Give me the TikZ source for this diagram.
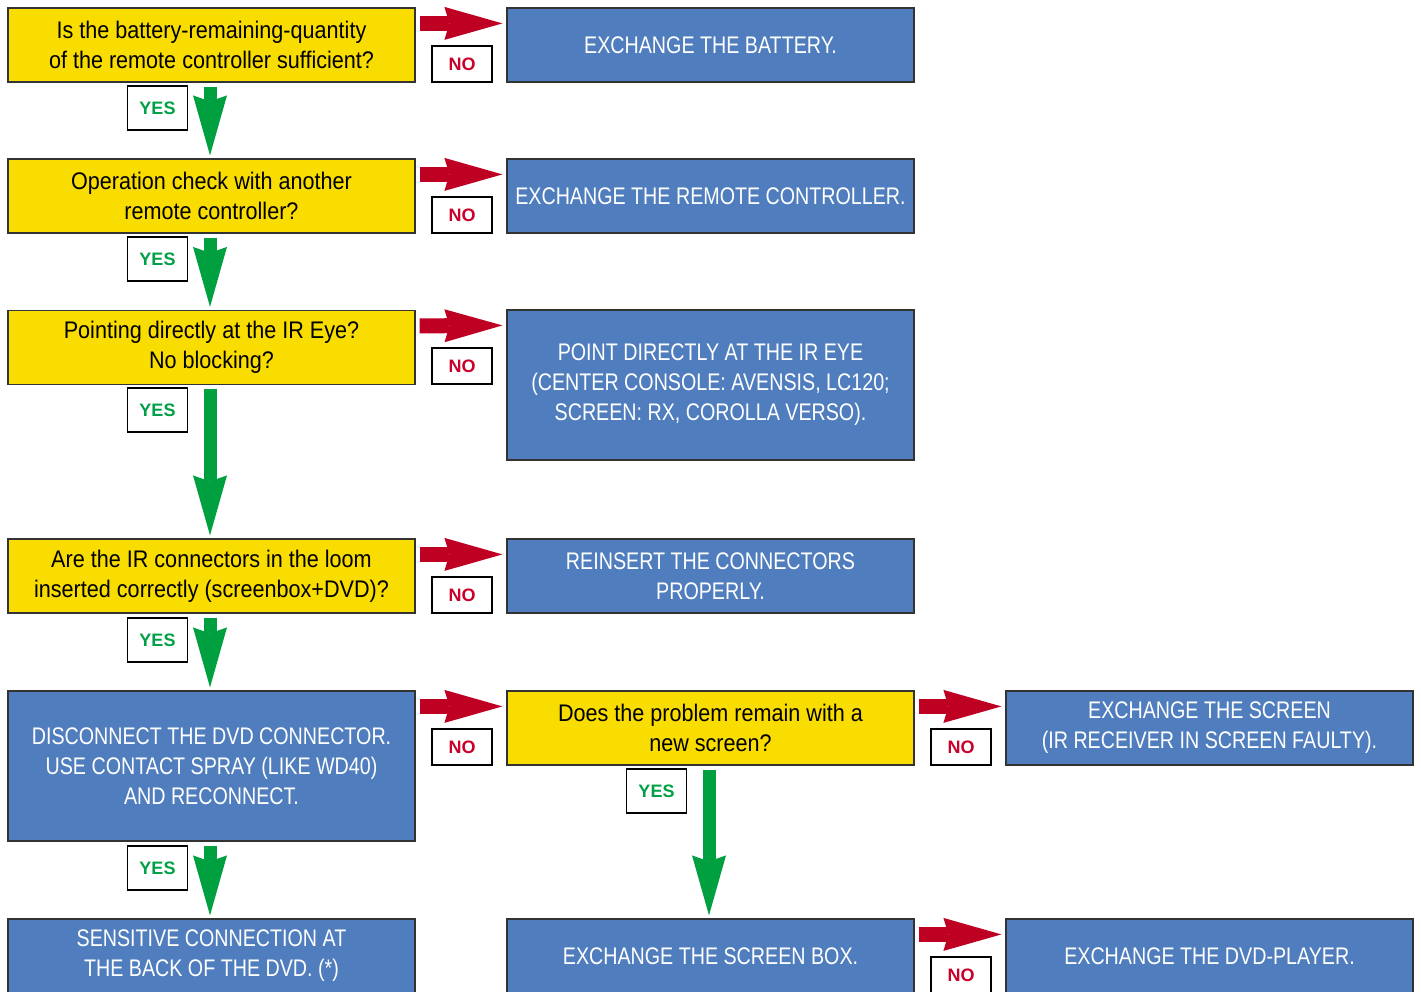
\documentclass[tikz,border=0pt]{standalone}
\usepackage{fontspec}
\setmainfont{Liberation Sans}[FakeStretch=0.82]
\newfontfamily\qfont{Liberation Sans}[FakeStretch=0.9]
\newfontfamily\labfont{Liberation Sans}
\usetikzlibrary{arrows.meta,calc}
\definecolor{qyellow}{HTML}{F9DD00}
\definecolor{ablue}{HTML}{4F7DBD}
\definecolor{boxline}{HTML}{333333}
\definecolor{yesgreen}{HTML}{00A046}
\definecolor{nored}{HTML}{C8002A}
\definecolor{arrred}{HTML}{BE0023}
\definecolor{arrgreen}{HTML}{00A040}
\begin{document}
\begin{tikzpicture}[x=1pt,y=-1pt,
  box/.style={draw=boxline, line width=1.2pt, minimum width=407pt, minimum height=74pt, inner sep=0pt, align=center, font=\fontsize{24}{30}\selectfont},
  qbox/.style={box, fill=qyellow, text=black, font=\qfont\fontsize{24}{30}\selectfont},
  abox/.style={box, fill=ablue, text=white},
  lab/.style={draw=black, line width=1.2pt, fill=white, minimum width=60pt, inner sep=0pt, font=\labfont\bfseries\fontsize{18}{20}\selectfont},
  yeslab/.style={lab, minimum height=44pt, text=yesgreen},
  nolab/.style={lab, minimum height=36pt, text=nored},
  noarr/.style={draw=arrred, fill=arrred, line width=15pt, -{Stealth[length=58pt,width=33pt,inset=5pt,line width=0pt]}},
  yesarr/.style={draw=arrgreen, fill=arrgreen, line width=13pt, -{Stealth[length=60pt,width=34pt,inset=6pt,line width=0pt]}}
]
\useasboundingbox (0,0) rectangle (1421,992);
\clip (0,0) rectangle (1421,992);
% left column
\node[qbox] (q1) at (211.5,45) {Is the battery-remaining-quantity\\of the remote controller sufficient?};
\node[qbox] (q2) at (211.5,196) {Operation check with another\\remote controller?};
\node[qbox] (q3) at (211.5,347.5) {Pointing directly at the IR Eye?\\No blocking?};
\node[qbox] (q4) at (211.5,576) {Are the IR connectors in the loom\\inserted correctly (screenbox+DVD)?};
\node[abox, minimum height=150pt] (b5) at (211.5,766) {DISCONNECT THE DVD CONNECTOR.\\USE CONTACT SPRAY (LIKE WD40)\\AND RECONNECT.};
\node[abox] (b6) at (211.5,956) {SENSITIVE CONNECTION AT\\THE BACK OF THE DVD. (*)};
% middle column
\node[abox] (a1) at (710.5,45) {EXCHANGE THE BATTERY.};
\node[abox] (a2) at (710.5,196) {EXCHANGE THE REMOTE CONTROLLER.};
\node[abox, minimum height=150pt] (a3) at (710.5,385) {POINT DIRECTLY AT THE IR EYE\\(CENTER CONSOLE: AVENSIS, LC120;\\SCREEN: RX, COROLLA VERSO).};
\node[abox] (a4) at (710.5,576) {REINSERT THE CONNECTORS\\PROPERLY.};
\node[qbox] (m5) at (710.5,728) {Does the problem remain with a\\new screen?};
\node[abox] (m6) at (710.5,956) {EXCHANGE THE SCREEN BOX.};
% right column
\node[abox] (r5) at (1209.5,728) {EXCHANGE THE SCREEN\\(IR RECEIVER IN SCREEN FAULTY).};
\node[abox] (r6) at (1209.5,956) {EXCHANGE THE DVD-PLAYER.};
% NO arrows
\draw[noarr] ($(q1.north east)+(4,16)$) -- ($(a1.north west)+(-4,16)$);
\draw[noarr] ($(q2.north east)+(4,16)$) -- ($(a2.north west)+(-4,16)$);
\draw[noarr] ($(q3.north east)+(4,16)$) -- ($(a3.north west)+(-4,16)$);
\draw[noarr] ($(q4.north east)+(4,16)$) -- ($(a4.north west)+(-4,16)$);
\draw[noarr] ($(b5.north east)+(4,16)$) -- ($(m5.north west)+(-4,16)$);
\draw[noarr] ($(m5.north east)+(4,16)$) -- ($(r5.north west)+(-4,16)$);
\draw[noarr] ($(m6.north east)+(4,16)$) -- ($(r6.north west)+(-4,16)$);
% YES arrows
\draw[yesarr] ($(q1.south)+(-1.5,4)$) -- ($(q2.north)+(-1.5,-3)$);
\draw[yesarr] ($(q2.south)+(-1.5,4)$) -- ($(q3.north)+(-1.5,-3)$);
\draw[yesarr] ($(q3.south)+(-1.5,4)$) -- ($(q4.north)+(-1.5,-3)$);
\draw[yesarr] ($(q4.south)+(-1.5,4)$) -- ($(b5.north)+(-1.5,-3)$);
\draw[yesarr] ($(b5.south)+(-1.5,4)$) -- ($(b6.north)+(-1.5,-3)$);
\draw[yesarr] ($(m5.south)+(-1.5,4)$) -- ($(m6.north)+(-1.5,-3)$);
% labels
\node[yeslab] (y1) at (157.5,108) {YES};
\node[yeslab] (y2) at (157.5,259) {YES};
\node[yeslab] (y3) at (157.5,410) {YES};
\node[yeslab] (y4) at (157.5,640) {YES};
\node[yeslab] (y5) at (157.5,868) {YES};
\node[yeslab] (y6) at (656.5,791) {YES};
\node[nolab] (n1) at (462,64) {NO};
\node[nolab] (n2) at (462,215) {NO};
\node[nolab] (n3) at (462,366) {NO};
\node[nolab] (n4) at (462,595) {NO};
\node[nolab] (n5) at (462,747) {NO};
\node[nolab] (n6) at (961,747) {NO};
\node[nolab] (n7) at (961,975) {NO};
\end{tikzpicture}
\end{document}
